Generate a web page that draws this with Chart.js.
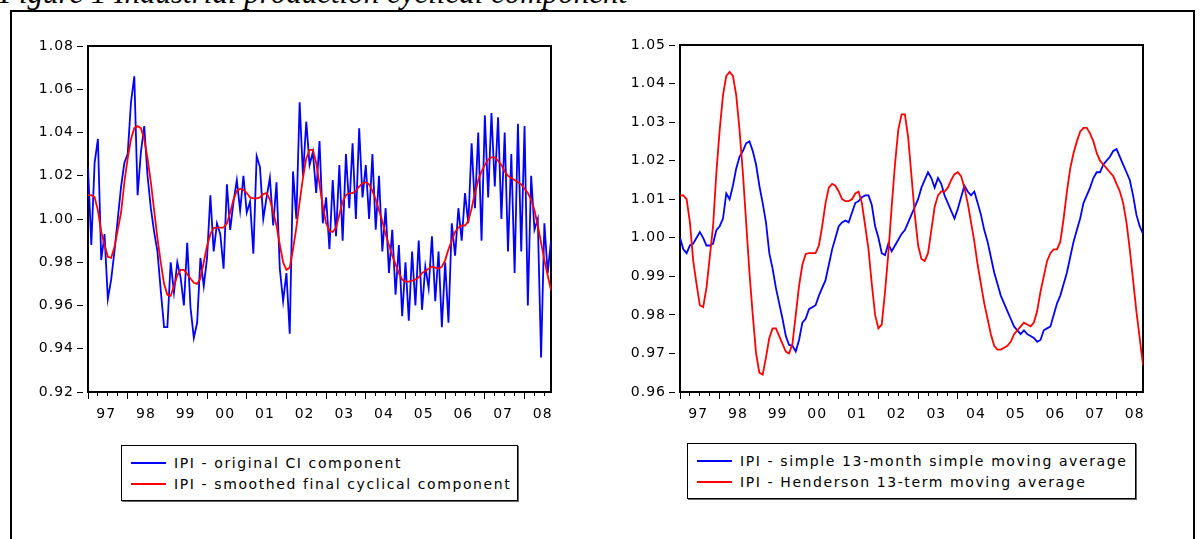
<!DOCTYPE html>
<html>
<head>
<meta charset="utf-8">
<title>Industrial production cyclical component</title>
<script src="https://cdn.jsdelivr.net/npm/chart.js@4.4.1/dist/chart.umd.min.js"></script>
<style>
  html, body { margin: 0; padding: 0; background: #fff; }
  body { width: 1201px; height: 539px; overflow: hidden; position: relative; font-family: "DejaVu Sans", sans-serif; }
  #caption { position: absolute; left: 0px; top: -22px; font: italic 31px/30px "Liberation Serif", "Times New Roman", serif; white-space: nowrap; color: #000; }
  #frame { position: absolute; left: 10px; top: 10px; width: 1185px; height: 620px; border: 2px solid #000; box-sizing: border-box; }
  canvas { position: absolute; }
  .legend { position: absolute; border: 1px solid #000; box-shadow: 1px 1px 0 #666; background: #fff; color: #000;
            font: 14px "DejaVu Sans", sans-serif; letter-spacing: 1.6px; box-sizing: border-box; }
  .legend .row { position: absolute; left: 0; right: 0; height: 20px; line-height: 20px; white-space: nowrap; }
  .legend .swatch { position: absolute; left: 9px; top: 9px; width: 35px; height: 2px; }
  .legend .txt { position: absolute; left: 52px; top: 0; }
</style>
</head>
<body>
<div id="caption">Figure 1 Industrial production cyclical component</div>
<div id="frame"></div>
<canvas id="leftChart" width="545" height="400" style="left:20px; top:26px;"></canvas>
<canvas id="rightChart" width="545" height="400" style="left:610px; top:25px;"></canvas>
<div id="leftLegend" class="legend" style="left:121px; top:445px; width:397px; height:56px;"></div>
<div id="rightLegend" class="legend" style="left:687px; top:443px; width:449px; height:56px;"></div>

<script>
// Monthly observations, January 1997 onwards.
const yearLabels = ['97', '98', '99', '00', '01', '02', '03', '04', '05', '06', '07', '08'];

const leftYTicks  = [0.92, 0.94, 0.96, 0.98, 1.00, 1.02, 1.04, 1.06, 1.08];
const rightYTicks = [0.96, 0.97, 0.98, 0.99, 1.00, 1.01, 1.02, 1.03, 1.04, 1.05];

// IPI - original CI component
const ipiOriginalCI = [
  1.024, 0.988, 1.026, 1.037, 0.981, 0.993, 0.963, 0.972, 0.985, 1.000, 1.015, 1.026,
  1.030, 1.054, 1.066, 1.011, 1.031, 1.043, 1.020, 1.005, 0.994, 0.985, 0.967, 0.950,
  0.950, 0.980, 0.966, 0.980, 0.973, 0.960, 0.989, 0.959, 0.945, 0.952, 0.982, 0.969,
  0.982, 1.011, 0.985, 0.998, 0.993, 0.977, 1.016, 0.995, 1.008, 1.018, 1.004, 1.020,
  1.003, 1.008, 0.984, 1.029, 1.024, 1.000, 1.010, 1.019, 0.997, 1.017, 0.977, 0.962,
  0.975, 0.947, 1.022, 1.000, 1.054, 1.020, 1.045, 1.025, 1.031, 1.012, 1.036, 0.998,
  1.010, 0.986, 1.018, 0.992, 1.025, 0.990, 1.030, 1.005, 1.035, 1.000, 1.042, 1.010,
  1.025, 1.000, 1.030, 0.995, 1.020, 0.985, 1.005, 0.975, 0.995, 0.965, 0.988, 0.955,
  0.980, 0.953, 0.985, 0.960, 0.990, 0.958, 0.978, 0.968, 0.992, 0.962, 0.985, 0.950,
  0.980, 0.952, 0.998, 0.983, 1.005, 0.990, 1.012, 0.998, 1.035, 1.005, 1.040, 0.990,
  1.048, 1.010, 1.049, 1.015, 1.047, 1.000, 1.040, 0.985, 1.030, 0.975, 1.044, 0.985,
  1.043, 0.960, 1.020, 0.995, 1.000, 0.936, 0.998, 0.975, 0.990
];

// IPI - Henderson 13-term moving average (the smoothed final cyclical component)
const ipiHenderson13 = [
  1.011, 1.011, 1.010, 1.004, 0.994, 0.988, 0.9825, 0.982, 0.987, 0.995, 1.003, 1.017,
  1.028, 1.037, 1.042, 1.043, 1.042, 1.037, 1.028, 1.017, 1.004, 0.991, 0.980, 0.970,
  0.965, 0.9645, 0.969, 0.974, 0.9765, 0.9765, 0.9745, 0.9725, 0.9705, 0.970, 0.9725, 0.980,
  0.9875, 0.993, 0.9958, 0.996, 0.996, 0.996, 0.998, 1.003, 1.009, 1.013, 1.014, 1.0135,
  1.012, 1.010, 1.0095, 1.0095, 1.010, 1.0115, 1.012, 1.009, 1.003, 0.997, 0.988, 0.980,
  0.9765, 0.9775, 0.986, 0.996, 1.008, 1.019, 1.028, 1.032, 1.032, 1.026, 1.016, 1.006,
  0.998, 0.9945, 0.994, 0.996, 1.002, 1.008, 1.011, 1.012, 1.012, 1.013, 1.015, 1.0165,
  1.017, 1.016, 1.013, 1.009, 1.004, 0.999, 0.993, 0.988, 0.983, 0.979, 0.975, 0.972,
  0.971, 0.971, 0.9715, 0.972, 0.973, 0.975, 0.976, 0.977, 0.978, 0.9775, 0.977, 0.978,
  0.981, 0.986, 0.990, 0.994, 0.996, 0.997, 0.997, 0.999, 1.005, 1.012, 1.018, 1.022,
  1.025, 1.0275, 1.0285, 1.0285, 1.027, 1.025, 1.022, 1.020, 1.019, 1.018, 1.017, 1.016,
  1.014, 1.012, 1.009, 1.004, 0.997, 0.989, 0.981, 0.974, 0.967
];

// IPI - simple 13-month simple moving average
const ipiSimple13 = [
  1.000, 0.997, 0.996, 0.998, 0.9985, 1.000, 1.0015, 1.000, 0.998, 0.998, 0.9985, 1.002,
  1.003, 1.005, 1.0115, 1.010, 1.0135, 1.018, 1.021, 1.0225, 1.0245, 1.025, 1.0225, 1.019,
  1.0135, 1.009, 1.004, 0.996, 0.992, 0.987, 0.983, 0.979, 0.9745, 0.9722, 0.972, 0.9705,
  0.9735, 0.978, 0.979, 0.9815, 0.982, 0.9825, 0.985, 0.987, 0.989, 0.993, 0.997, 1.000,
  1.003, 1.004, 1.0045, 1.004, 1.0065, 1.009, 1.0095, 1.0105, 1.011, 1.011, 1.0085, 1.003,
  1.000, 0.996, 0.9955, 0.9985, 0.9965, 0.998, 0.9995, 1.001, 1.002, 1.004, 1.006, 1.008,
  1.010, 1.013, 1.015, 1.017, 1.0155, 1.013, 1.0155, 1.014, 1.011, 1.009, 1.007, 1.005,
  1.0075, 1.0105, 1.0135, 1.012, 1.011, 1.012, 1.009, 1.006, 1.002, 0.999, 0.995, 0.991,
  0.988, 0.985, 0.983, 0.981, 0.979, 0.977, 0.976, 0.975, 0.976, 0.975, 0.9745, 0.974,
  0.973, 0.9735, 0.976, 0.9765, 0.977, 0.980, 0.983, 0.985, 0.988, 0.991, 0.995, 0.999,
  1.002, 1.005, 1.009, 1.011, 1.013, 1.0155, 1.017, 1.017, 1.019, 1.020, 1.021, 1.0225,
  1.023, 1.021, 1.019, 1.017, 1.015, 1.011, 1.006, 1.003, 1.001
];

const BLUE = '#0000ff';
const RED = '#ff0000';
const INK = '#000000';
const TICK_FONT = { family: '"DejaVu Sans", sans-serif', size: 14 };

// Slightly spaced glyphs, like the old bitmap sans used for the axis text.
const spacedText = {
  id: 'spacedText',
  beforeUpdate(chart) { chart.ctx.letterSpacing = '1px'; },
  beforeDraw(chart) { chart.ctx.letterSpacing = '1px'; }
};

function makePanel(canvasId, legendId, panel) {
  const n = panel.series[0].values.length;
  const quarterTicks = [];
  for (let m = 0; m < n; m += 3) quarterTicks.push(m);
  const yearStarts = yearLabels.map((_, k) => 12 * k);
  const yearMids = yearLabels.map((_, k) => 12 * k + 5.5);

  const baseX = { type: 'linear', position: 'bottom', min: 0, max: n - 1 };
  const edge = {
    type: 'linear', display: true,
    ticks: { display: false },
    grid: { display: false, drawTicks: false },
    border: { display: true, color: INK, width: 2 }
  };

  const chart = new Chart(document.getElementById(canvasId), {
    type: 'line',
    data: {
      datasets: panel.series.map(s => ({
        label: s.label,
        data: s.values.map((v, i) => ({ x: i, y: v })),
        borderColor: s.color,
        backgroundColor: s.color,
        borderWidth: 1.8,
        pointRadius: 0,
        tension: 0,
        fill: false,
        order: s.order,
        xAxisID: 'x',
        yAxisID: 'y'
      }))
    },
    options: {
      responsive: false,
      animation: false,
      events: [],
      layout: { padding: panel.padding },
      plugins: { legend: { display: false }, tooltip: { enabled: false } },
      scales: {
        x: Object.assign({}, baseX, {
          weight: 0,
          afterBuildTicks: s => { s.ticks = quarterTicks.map(v => ({ value: v })); },
          ticks: { display: false },
          grid: { display: true, drawOnChartArea: false, drawTicks: true, tickLength: 4, tickColor: INK, tickWidth: 1 },
          border: { display: true, color: INK, width: 2 }
        }),
        xYear: Object.assign({}, baseX, {
          weight: 1,
          afterBuildTicks: s => { s.ticks = yearStarts.map(v => ({ value: v })); },
          ticks: { display: false },
          grid: { display: true, drawOnChartArea: false, drawTicks: true, tickLength: 3, tickColor: INK, tickWidth: 1 },
          border: { display: false }
        }),
        xLabel: Object.assign({}, baseX, {
          weight: 2,
          afterBuildTicks: s => { s.ticks = yearMids.map(v => ({ value: v })); },
          afterFit: s => { s.height = 24; },
          ticks: {
            display: true, autoSkip: false, maxRotation: 0, minRotation: 0, padding: 7,
            color: INK, font: TICK_FONT,
            callback: (v, i) => yearLabels[i]
          },
          grid: { display: false, drawTicks: false },
          border: { display: false }
        }),
        y: {
          type: 'linear', position: 'left',
          min: panel.yTicks[0], max: panel.yTicks[panel.yTicks.length - 1],
          afterBuildTicks: s => { s.ticks = panel.yTicks.map(v => ({ value: v })); },
          afterFit: s => { s.width = panel.yWidth; },
          ticks: { color: INK, font: TICK_FONT, padding: 3, callback: v => v.toFixed(2) },
          grid: { drawOnChartArea: false, drawTicks: true, tickLength: 11, tickColor: INK, tickWidth: 1, tickBorderDash: [6, 5] },
          border: { display: true, color: INK, width: 2 }
        },
        yEdge: Object.assign({}, edge, { position: 'right' }),
        xEdge: Object.assign({}, edge, { position: 'top' })
      }
    },
    plugins: [spacedText]
  });

  // Boxed legend listing the datasets in order.
  const box = document.getElementById(legendId);
  chart.data.datasets.forEach((ds, k) => {
    const row = document.createElement('div');
    row.className = 'row';
    row.style.top = (7 + 21 * k) + 'px';
    const sw = document.createElement('div');
    sw.className = 'swatch';
    sw.style.background = ds.borderColor;
    const tx = document.createElement('div');
    tx.className = 'txt';
    tx.textContent = ds.label;
    row.appendChild(sw);
    row.appendChild(tx);
    box.appendChild(row);
  });
  return chart;
}

makePanel('leftChart', 'leftLegend', {
  yTicks: leftYTicks,
  yWidth: 68,
  padding: { left: 0, top: 20, right: 14, bottom: 3 },
  series: [
    { label: 'IPI - original CI component', values: ipiOriginalCI, color: BLUE, order: 1 },
    { label: 'IPI - smoothed final cyclical component', values: ipiHenderson13, color: RED, order: 0 }
  ]
});

makePanel('rightChart', 'rightLegend', {
  yTicks: rightYTicks,
  yWidth: 70,
  padding: { left: 0, top: 20, right: 12, bottom: 2 },
  series: [
    { label: 'IPI - simple 13-month simple moving average', values: ipiSimple13, color: BLUE, order: 1 },
    { label: 'IPI - Henderson 13-term moving average', values: ipiHenderson13, color: RED, order: 0 }
  ]
});
</script>
</body>
</html>
